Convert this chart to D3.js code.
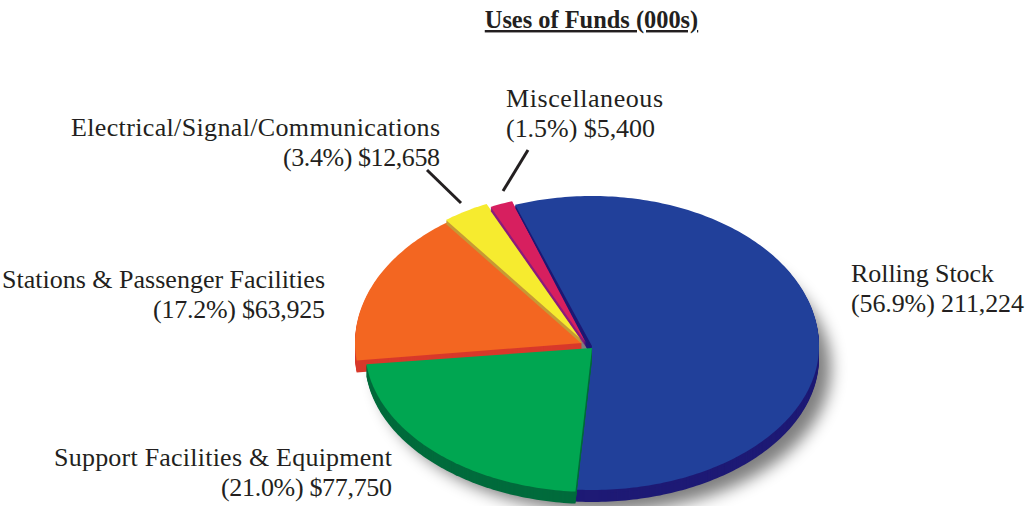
<!DOCTYPE html>
<html><head><meta charset="utf-8"><style>html,body{margin:0;background:#fff}svg{display:block}text{font-family:"Liberation Serif",serif;fill:#231f20}</style>
<script src="https://cdn.jsdelivr.net/npm/d3@7/dist/d3.min.js"></script></head><body>
<svg width="1026" height="506"></svg>
<script>
const categories=["Rolling Stock","Support Facilities & Equipment","Stations & Passenger Facilities","Electrical/Signal/Communications","Miscellaneous"];
const values=[211224,77750,63925,12658,5400];
const captions=["(56.9%) 211,224","(21.0%) $77,750","(17.2%) $63,925","(3.4%) $12,658","(1.5%) $5,400"];
const topColors=["#21409a","#00a651","#f36621","#f6eb2f","#d71f5f"];
const sideColors=["#1e1a75","#006b3c","#d8392b","#c79a36","#8c1c7c"];
const offsets=[[2,0],[2,2],[-8,-3],[-8,-6],[-4,-3]];
const angleNudges=[[0.2,0.5],[-0.8,3.1],[2.6,1.2],[0.7,0.4],[0.4,1]];
const depths=[3,12,12,4,4];
const drawOrder=[2,3,4,0,1];
const nameWidths=[143,338,323,369,157];
const captionWidths=[173,171,172,157,149];
const labelX=[851,392,325,440,506];
const labelY=[282,466,288,136,107];
const labelAnchor=["start","end","end","end","start"];
const leaders=[null,null,null,[[427,170],[461,203]],[[528,150],[503,191]]];

const svg=d3.select("svg");
svg.append("defs").append("filter").attr("id","blur").attr("x","-20%").attr("y","-20%").attr("width","140%").attr("height","140%")
  .append("feGaussianBlur").attr("stdDeviation",8);
const cx=590,cy=346,rx=227,ryTop=150,ryBottom=144;
const rad=Math.PI/180;
const arcs=d3.pie().sort(null).startAngle(-20*rad).endAngle(340*rad)(values);
function wedge(i,dx,dy){
  const a0=arcs[i].startAngle+angleNudges[i][0]*rad, a1=arcs[i].endAngle+angleNudges[i][1]*rad;
  const steps=Math.ceil((a1-a0)/rad);
  const scaleA=d3.scaleLinear().domain([0,steps]).range([a0,a1]);
  const pts=d3.range(steps+1).map(s=>{
    const a=scaleA(s), c=-Math.cos(a);
    return [cx+dx+rx*Math.sin(a), cy+dy+c*(c<0?ryTop:ryBottom)];
  });
  return d3.line()([[cx+dx,cy+dy],...pts])+"Z";
}
svg.append("ellipse").attr("cx",cx+14).attr("cy",cy+22).attr("rx",rx).attr("ry",ryBottom)
  .attr("fill","#000").attr("opacity",.5).attr("filter","url(#blur)");
const pieG=svg.append("g");
function stack(i,depth){
  const [dx,dy]=offsets[i];
  pieG.append("g").selectAll("path").data(d3.range(depth,0,-1)).join("path")
    .attr("d",k=>wedge(i,dx,dy+k)).attr("fill",sideColors[i]);
}
stack(0,12); // outer rim of the large slice sits behind the small ones
drawOrder.forEach(i=>{
  const [dx,dy]=offsets[i];
  stack(i,depths[i]);
  pieG.append("path").attr("d",wedge(i,dx,dy)).attr("fill",topColors[i]);
});
const fs=26;
categories.forEach((c,i)=>{
  const t=svg.append("text").attr("font-size",fs).attr("text-anchor",labelAnchor[i]);
  t.append("tspan").attr("x",labelX[i]).attr("y",labelY[i]).attr("textLength",nameWidths[i]).text(c);
  t.append("tspan").attr("x",labelX[i]).attr("y",labelY[i]+29.5).attr("textLength",captionWidths[i]).text(captions[i]);
  if(leaders[i]) svg.append("path").attr("d",d3.line()(leaders[i])).attr("stroke","#231f20").attr("stroke-width",3).attr("fill","none");
});
svg.append("text").attr("x",591.5).attr("y",28).attr("text-anchor","middle").attr("font-size",24.4).attr("font-weight","bold")
  .attr("text-decoration","underline").text("Uses of Funds (000s)");
</script></body></html>
